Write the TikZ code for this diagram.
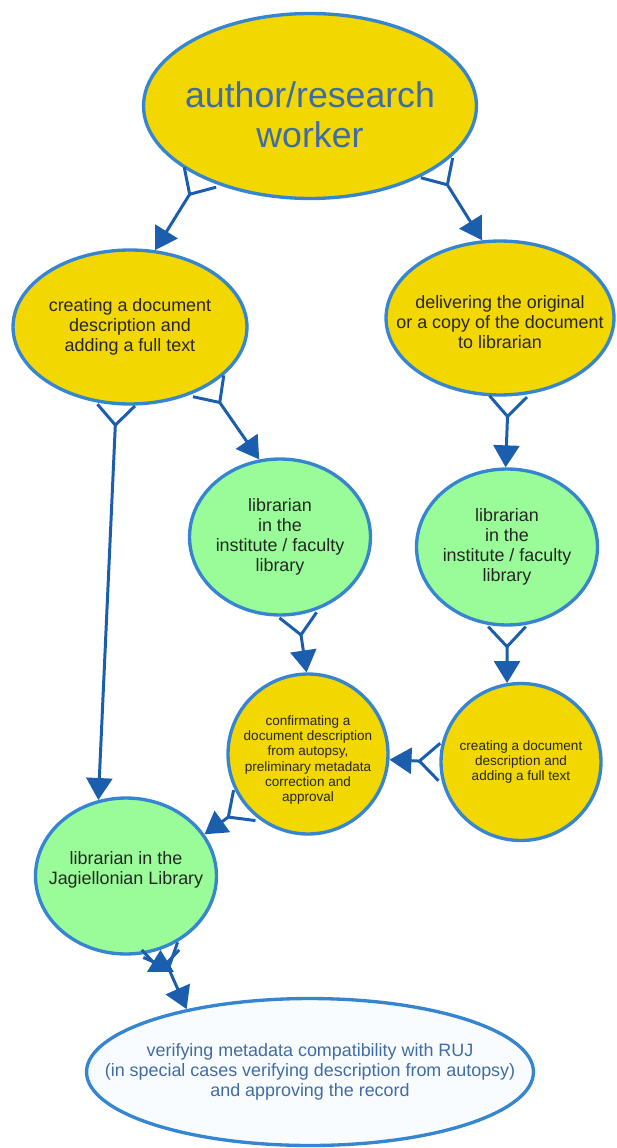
\documentclass[tikz,border=0pt]{standalone}
\usepackage{fontspec}
\setmainfont{Liberation Sans}
\usepackage{tikz}
\usetikzlibrary{shapes.geometric, arrows.meta, positioning}
\definecolor{bubbleyellow}{HTML}{F2D700}
\definecolor{bubblegreen}{HTML}{99FC99}
\definecolor{bubblewhite}{HTML}{F8FCFF}
\definecolor{rimblue}{HTML}{3585D0}
\definecolor{linkblue}{HTML}{1B5EAE}
\definecolor{labelblue}{HTML}{3F6CA6}
% split foot: two prongs opening towards the node it leaves
\pgfdeclarearrow{
  name = Fork,
  defaults = {length=0.4cm, width=0.75cm},
  parameters = {\the\pgfarrowlength,\the\pgfarrowwidth},
  setup code = {
    \pgfarrowssettipend{0pt}
    \pgfarrowssetbackend{-\pgfarrowlength}
    \pgfarrowssetlineend{-\pgfarrowlength}
    \pgfarrowshullpoint{0pt}{.5\pgfarrowwidth}
    \pgfarrowshullpoint{0pt}{-.5\pgfarrowwidth}
    \pgfarrowshullpoint{-\pgfarrowlength}{0pt}
    \pgfarrowssavethe\pgfarrowlength
    \pgfarrowssavethe\pgfarrowwidth
  },
  drawing code = {
    \pgfpathmoveto{\pgfqpoint{0pt}{.5\pgfarrowwidth}}
    \pgfpathlineto{\pgfqpoint{-\pgfarrowlength}{0pt}}
    \pgfpathlineto{\pgfqpoint{0pt}{-.5\pgfarrowwidth}}
    \pgfusepathqstroke
  }
}
\tikzset{
flow/.style={color=linkblue, line width=1.7pt, {Fork[length=0.4cm, width=0.75cm]}-{Triangle[length=0.44cm, width=0.52cm]}}, % split foot at the start, solid head at the end
bubble/.style 2 args={ellipse, draw=rimblue, line width=1.9pt, inner sep=0pt, minimum width=#1, minimum height=#2}, % every oval of the chart
task/.style={bubble={3.2cm}{3.2cm}, fill=bubbleyellow}, % small yellow steps
person/.style={bubble={3.62cm}{3.12cm}, fill=bubblegreen}, % librarians
note/.style={align=center, text=black!85, font=\fontsize{10.2}{11.4}\selectfont}, % normal label
small note/.style={note, font=\fontsize{7.7}{8.6}\selectfont}, % label in the small yellow steps
}
\begin{document}
\begin{tikzpicture}[x=0.02cm, y=-0.02cm]
    \useasboundingbox (0,0) rectangle (616,1148);
                \node[bubble={6.66cm}{3.7cm}, fill=bubbleyellow, label={[note, text=labelblue, font=\fontsize{20.3}{22.8}\selectfont, yshift=-0.18cm]center:{author/research\\worker}}] (author) at (310,106) {};
                \node[bubble={4.68cm}{3.08cm}, fill=bubbleyellow, label={[note]center:{creating a document\\description and\\adding a full text}}] (ldesc) at (130,327) {};
                \node[bubble={4.56cm}{3.08cm}, fill=bubbleyellow, label={[note, yshift=-0.08cm]center:{delivering the original\\or a copy of the document\\to librarian}}] (deliver) at (500,318) {};
                \node[person, label={[note]center:{librarian\\in the\\institute / faculty\\library}}] (libA) at (280,537) {};
                \node[person, label={[note]center:{librarian\\in the\\institute / faculty\\library}}] (libB) at (507,547) {};
                \node[task, label={[small note, yshift=-0.12cm]center:{confirmating a\\document description\\from autopsy,\\preliminary metadata\\correction and\\approval}}] (confirm) at (308,754) {};
                \node[task, minimum height=3.14cm, label={[small note]center:{creating a document\\description and\\adding a full text}}] (create) at (521,762) {};
                \node[person, label={[note, yshift=0.12cm]center:{librarian in the\\Jagiellonian Library}}] (jag) at (126,876) {};
                \node[bubble={8.94cm}{2.94cm}, fill=bubblewhite, label={[note, text=labelblue]center:{verifying metadata compatibility with RUJ\\(in special cases verifying description from autopsy)\\and approving the record}}] (verify) at (310,1072) {};
                \draw[flow]
                    (author.-147) edge (ldesc.72)
                    (author.-26) edge (deliver.103)
                    (ldesc.-100) edge (jag.110)
                    (ldesc.-37) edge (libA.105)
                    (deliver.-84) edge (libB.91)

                    (libA.-77) edge (confirm.91)
                    (libB.-90) edge (create.100)
                    (create.180) edge (confirm.-4)
                    (confirm.-141) edge (jag.28)
                    (jag.-65) edge (verify.153)
                    ;
                \end{tikzpicture}
\end{document}
